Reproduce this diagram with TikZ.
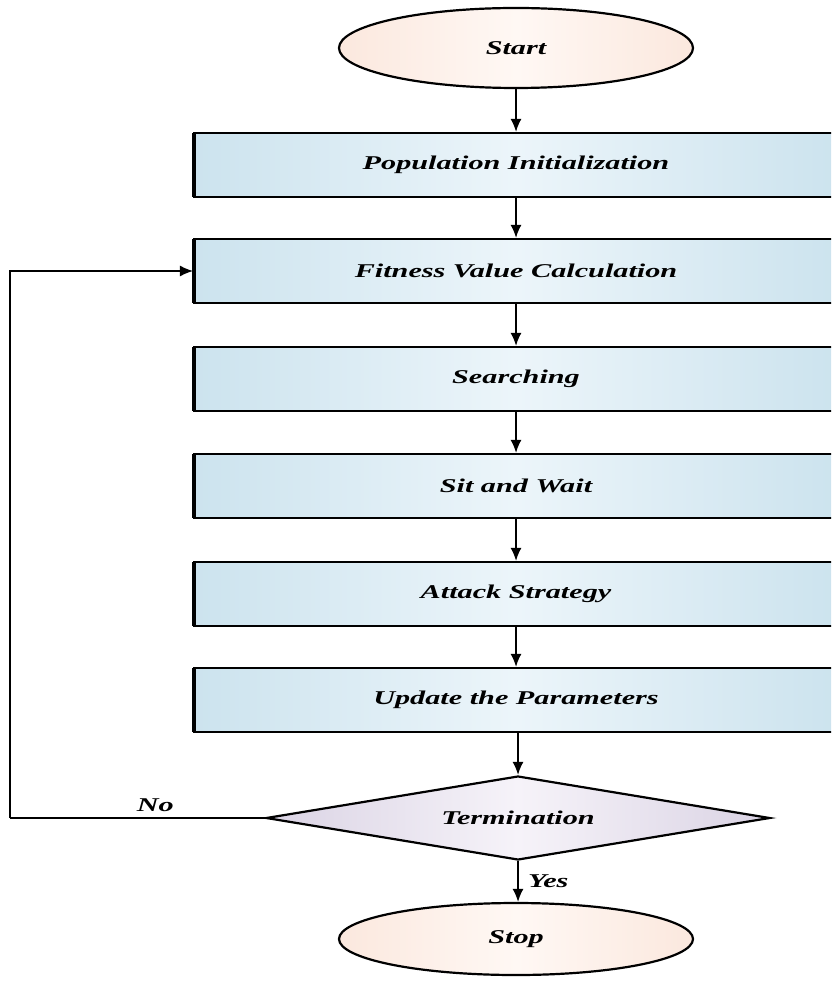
\documentclass[tikz,border=0pt]{standalone}
\usepackage{fontspec}
\setmainfont{Liberation Serif}
\newfontfamily\widefont[FakeStretch=1.55]{Liberation Serif}
\usetikzlibrary{shapes.geometric,arrows.meta}
\definecolor{boxedge}{RGB}{204,227,238}
\definecolor{boxmid}{RGB}{236,245,250}
\definecolor{ovedge}{RGB}{251,232,222}
\definecolor{ovmid}{RGB}{255,248,244}
\definecolor{diaedge}{RGB}{218,211,228}
\definecolor{diamid}{RGB}{246,243,249}
\tikzset{
  lbl/.style={font=\widefont\fontsize{19.5}{22}\selectfont\bfseries\itshape},
  procbox/.style={rectangle, draw=black, line width=2.2pt, minimum width=644pt, minimum height=64pt, inner sep=0pt,
    left color=boxedge, right color=boxedge, middle color=boxmid, lbl},
  term/.style={ellipse, draw=black, line width=2.2pt, minimum width=354pt, minimum height=80pt, inner sep=0pt,
    left color=ovedge, right color=ovedge, middle color=ovmid, lbl},
  decis/.style={diamond, aspect=6, draw=black, line width=2.2pt, minimum width=504pt, minimum height=84pt, inner sep=0pt,
    left color=diaedge, right color=diaedge, middle color=diamid, lbl},
  arr/.style={-{Latex[length=13pt,width=11pt]}, line width=1.6pt, black},
  lpline/.style={line width=1.2pt, black}
}
\begin{document}
\begin{tikzpicture}[x=1pt,y=-1pt]
\useasboundingbox (0,0) rectangle (831,981);
\clip (0,0) rectangle (831,981);
\node[term] (start) at (516,48) {Start};
\node[procbox] (pop) at (516,165) {Population Initialization};
\node[procbox] (fit) at (516,271) {Fitness Value Calculation};
\node[procbox] (srch) at (516,379) {Searching};
\node[procbox] (sit) at (516,486) {Sit and Wait};
\node[procbox] (att) at (516,594) {Attack Strategy};
\node[procbox] (upd) at (516,700) {Update the Parameters};
\node[decis] (trm) at (518,818) {Termination};
\node[term, minimum height=72pt] (stop) at (516,939) {Stop};
\foreach \b in {pop,fit,srch,sit,att,upd}{
  \draw[line width=4.5pt] ([xshift=1pt,yshift=-1pt]\b.north west) -- ([xshift=1pt,yshift=1pt]\b.south west);
}
\draw[arr] (start) -- (pop);
\draw[arr] (pop) -- (fit);
\draw[arr] (fit) -- (srch);
\draw[arr] (srch) -- (sit);
\draw[arr] (sit) -- (att);
\draw[arr] (att) -- (upd);
\draw[arr] (upd.south -| trm.north) -- (trm.north);
\draw[arr] (trm.south) -- node[right, lbl, pos=0.5, xshift=6pt] {Yes} (trm.south |- stop.north);
\coordinate (lc) at (10,818);
\draw[lpline] (trm.west) -- node[above, lbl, pos=0.43, yshift=2pt] {No} (lc);
\draw[lpline, -{Latex[length=13pt,width=11pt]}] (lc) |- (fit.west);
\end{tikzpicture}
\end{document}
